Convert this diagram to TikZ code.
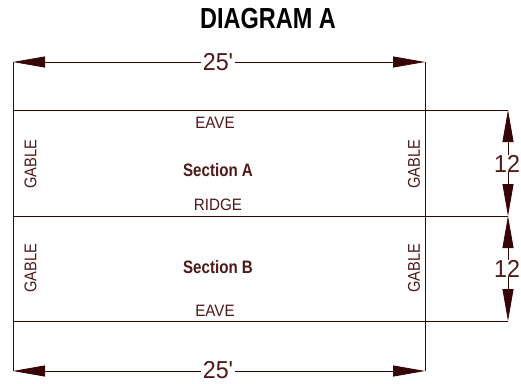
\documentclass[tikz,border=0pt]{standalone}
\usepackage{fontspec}
\setmainfont{Liberation Sans}
\newfontfamily\lblfont[FakeStretch=0.92]{Liberation Sans}
\newfontfamily\gabfont[FakeStretch=0.86]{Liberation Sans}
\newfontfamily\secfont[FakeStretch=0.84]{Liberation Sans}
\newfontfamily\ttlfont[FakeStretch=0.81]{Liberation Sans}
\newfontfamily\dimfont[Ligatures=ResetAll,FakeStretch=0.95]{Liberation Sans}
\usetikzlibrary{arrows.meta}
\definecolor{ln}{RGB}{55,5,5}
\definecolor{tx}{RGB}{80,25,25}
\begin{document}
\begin{tikzpicture}[x=1pt,y=-1pt,
  tip/.tip={Triangle[length=32pt,width=11pt]},
  dimline/.style={draw=ln, line width=0.8pt, tip-tip},
  wall/.style={draw=ln, line width=0.8pt},
  lbl/.style={text=tx, font=\lblfont\fontsize{16.5}{16.5}\selectfont, inner sep=0pt},
  gab/.style={text=tx, font=\gabfont\fontsize{17}{17}\selectfont, inner sep=0pt, rotate=90},
  sec/.style={text=tx, font=\secfont\bfseries\fontsize{18}{18}\selectfont, inner sep=0pt},
  dimtxt/.style={text=tx, font=\dimfont\fontsize{24.5}{24.5}\selectfont, fill=white, inner xsep=1.5pt, inner ysep=0.3pt},
  ttl/.style={text=black, font=\ttlfont\bfseries\fontsize{29}{29}\selectfont, inner sep=0pt},
  ]
\useasboundingbox[fill=white] (0,0) rectangle (521,383);
% corners
\coordinate (tl) at (13,62);
\coordinate (tr) at (425,62);
\coordinate (bl) at (13,371);
\coordinate (br) at (425,371);
\coordinate (e1l) at (13,110);
\coordinate (e1r) at (508,110);
\coordinate (rl) at (13,216);
\coordinate (rr) at (508,216);
\coordinate (e2l) at (13,321);
\coordinate (e2r) at (508,321);
% structure lines
\draw[wall] (tl) -- (bl);
\draw[wall] (tr) -- (br);
\draw[wall] (e1l) -- (e1r);
\draw[wall] (rl) -- (rr);
\draw[wall] (e2l) -- (e2r);
% dimension lines
\draw[dimline] (tl) -- (tr);
\draw[dimline] (bl) -- (br);
\draw[dimline] (e1r) -- (rr);
\draw[dimline] (rr) -- (e2r);
% title
\node[ttl] (title) at (268,18.5) {DIAGRAM A};
% dimension texts
\node[dimtxt] (dtop) at (218,62.5) {25'};
\node[dimtxt] (dbot) at (218,370.5) {25'};
\node[dimtxt] (d1) at (507,163.5) {12};
\node[dimtxt] (d2) at (507,268.5) {12};
% labels
\node[lbl] (eave1) at (215,122.5) {EAVE};
\node[sec] (secA) at (218,170.5) {Section A};
\node[lbl] (ridge) at (218,205) {RIDGE};
\node[sec] (secB) at (218,267) {Section B};
\node[lbl] (eave2) at (215,311) {EAVE};
\node[gab] (g1) at (30.5,164) {GABLE};
\node[gab] (g2) at (414,164) {GABLE};
\node[gab] (g3) at (30.5,268) {GABLE};
\node[gab] (g4) at (414,268) {GABLE};
\end{tikzpicture}
\end{document}
